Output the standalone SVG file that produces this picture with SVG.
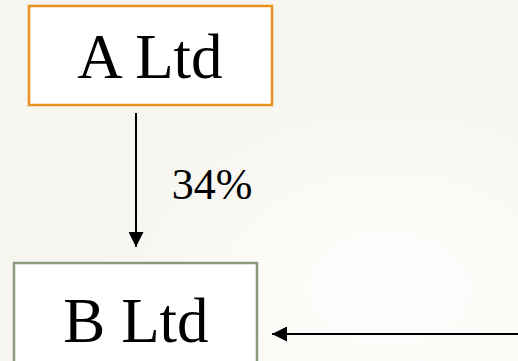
<svg xmlns="http://www.w3.org/2000/svg" width="518" height="361" viewBox="0 0 518 361">
  <defs>
    <radialGradient id="bg" cx="0.75" cy="0.8" r="0.6">
      <stop offset="0" stop-color="#fefefd"/>
      <stop offset="1" stop-color="#f6f5ef"/>
    </radialGradient>
    <marker id="arrow" viewBox="0 0 10 10" refX="10" refY="5" markerWidth="7.5" markerHeight="7.5" orient="auto" markerUnits="strokeWidth">
      <path d="M0,0 L10,5 L0,10 z" fill="#000"/>
    </marker>
    <style>
      .box { fill: #ffffff; stroke-width: 2.5; }
      .label { font-family: "Liberation Serif", "Times New Roman", serif; fill: #000; text-anchor: middle; }
      .edge { stroke: #000; stroke-width: 2; fill: none; marker-end: url(#arrow); }
    </style>
  </defs>

  <rect width="518" height="361" fill="url(#bg)"/>

  <g id="a-ltd">
    <rect class="box" x="29" y="6" width="243" height="99" stroke="#e8901e"/>
    <text class="label" x="150" y="78" font-size="63">A Ltd</text>
  </g>

  <g id="b-ltd">
    <rect class="box" x="14" y="263" width="243" height="110" stroke="#8c9a7c"/>
    <text class="label" x="136" y="342" font-size="63">B Ltd</text>
  </g>

  <g id="connectors">
    <line class="edge" x1="136" y1="113" x2="136" y2="247"/>
    <text class="label" x="212" y="199" font-size="44">34%</text>
    <line class="edge" x1="518" y1="334" x2="272" y2="334"/>
  </g>
</svg>
